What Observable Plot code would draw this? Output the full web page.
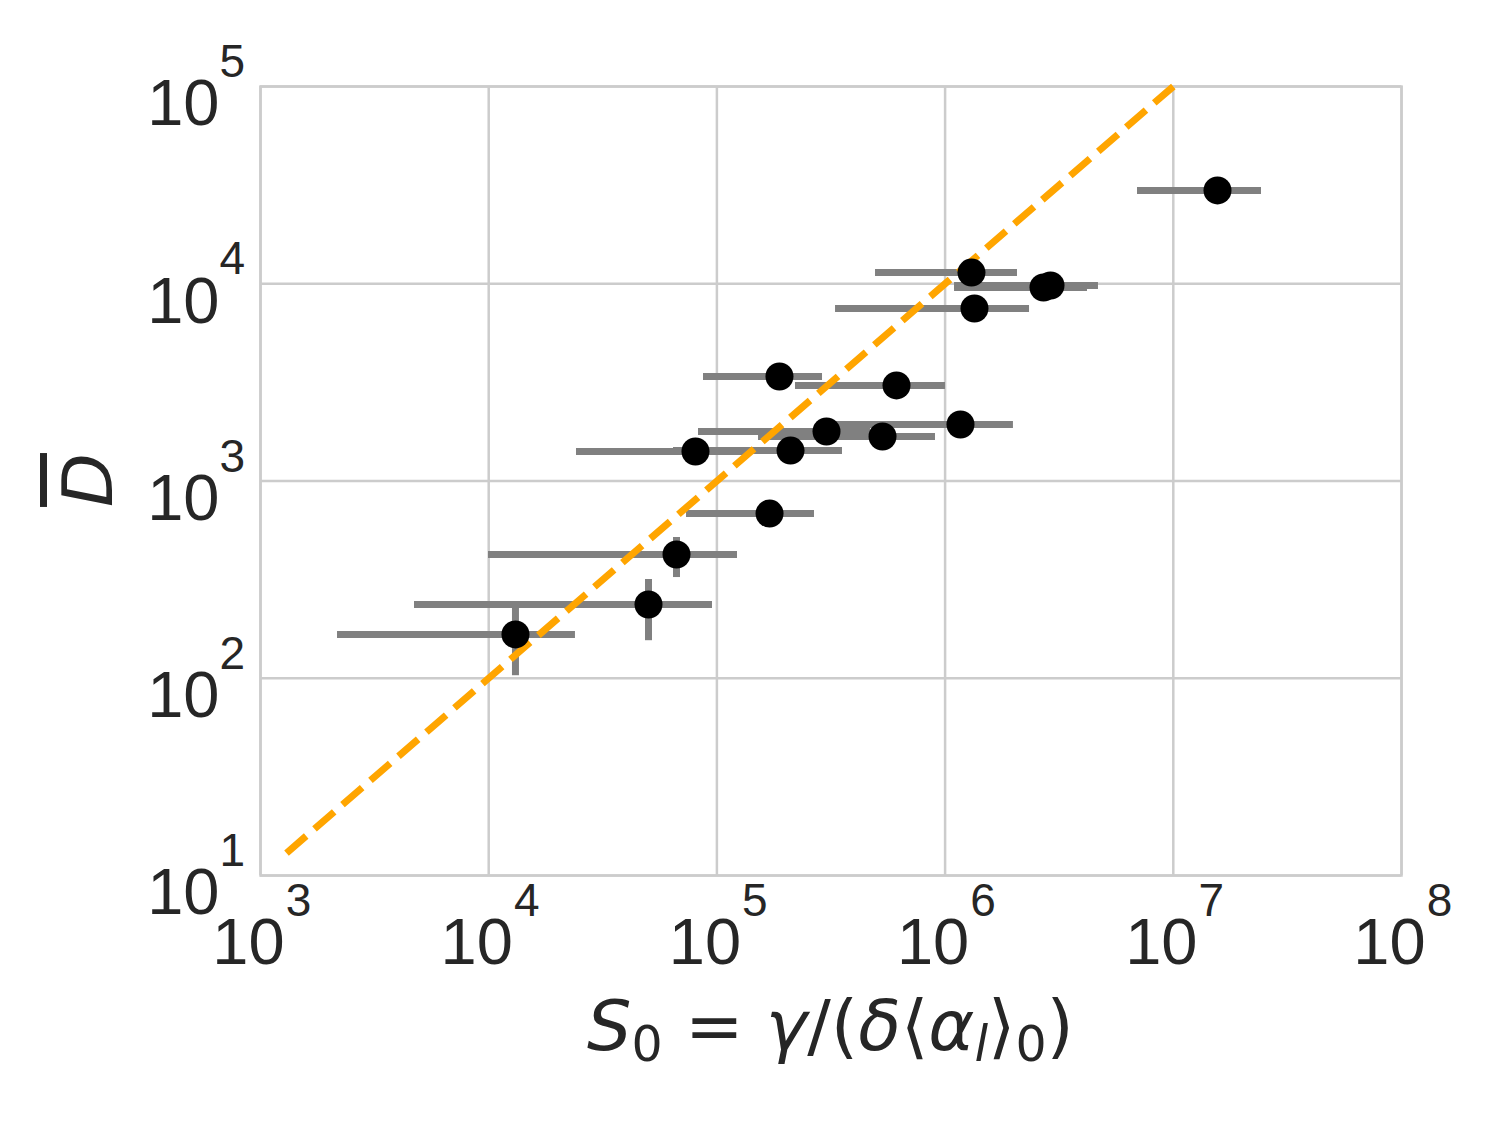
<!DOCTYPE html>
<html><head><meta charset="utf-8">
<script src="https://cdn.jsdelivr.net/npm/d3@7"></script>
<script src="https://cdn.jsdelivr.net/npm/@observablehq/plot@0.6"></script>
<style>html,body{margin:0;padding:0;background:#fff;overflow:hidden}svg{display:block}</style>
</head><body><div id="chart"></div>
<script>
// Point estimates (x = S0, y = mean D)
const S    = [13100, 50150, 66530, 170100, 188000, 612400, 302200, 531800, 1168000, 80560, 210200, 15620000, 1305000, 2699000, 2897000, 1345000];
const D    = [166.7, 236.5, 424, 684, 3386, 3050, 1782, 1681, 1934, 1411, 1427, 29710, 11400, 9572, 9797, 7490];
// Horizontal error bar ends
const S_lo = [2175, 4730, 9980, 73600, 87350, 221000, 83060, 152200, 314700, 24250, 64540, 6968000, 495500, 1100000, 1100000, 331000];
const S_hi = [24000, 95650, 123100, 267700, 290300, 1004000, 471000, 907600, 1993000, 137500, 355100, 24350000, 2076000, 4207000, 4700000, 2344000];
// Vertical error bar ends (hidden under marker when equal to D)
const D_lo = [103, 155, 324, 684, 3386, 3050, 1782, 1681, 1934, 1411, 1427, 29710, 11400, 9572, 9797, 7490];
const D_hi = [228, 316.7, 517, 684, 3386, 3050, 1782, 1681, 1934, 1411, 1427, 29710, 11400, 9572, 9797, 7490];
// Reference line D = S/100
const lineS = [1300, 1e7];
const lineD = [13, 1e5];
// Ticks
const xTicks = [1e3, 1e4, 1e5, 1e6, 1e7, 1e8];
const xExponents = ["3", "4", "5", "6", "7", "8"];
const yTicks = [1e1, 1e2, 1e3, 1e4, 1e5];
const yExponents = ["1", "2", "3", "4", "5"];

const rows = S.map((s, i) => ({S: s, D: D[i], sLo: S_lo[i], sHi: S_hi[i], dLo: D_lo[i], dHi: D_hi[i]}));
const lineRows = lineS.map((s, i) => ({S: s, D: lineD[i]}));
const xExp = new Map(xTicks.map((t, i) => [t, xExponents[i]]));
const yExp = new Map(yTicks.map((t, i) => [t, yExponents[i]]));

const ML = 260, MR = 99, MT = 86, MB = 250, W = 1500, H = 1125;
const chart = Plot.plot({
  width: W, height: H,
  marginLeft: ML, marginRight: MR, marginTop: MT, marginBottom: MB,
  style: {background: "#fff", fontFamily: "'Liberation Sans', Arial, sans-serif", color: "#262626"},
  x: {type: "log", domain: [1e3, 1e8]},
  y: {type: "log", domain: [10, 1e5]},
  marks: [
    Plot.gridX(xTicks, {stroke: "#cccccc", strokeOpacity: 1, strokeWidth: 2.5}),
    Plot.gridY(yTicks, {stroke: "#cccccc", strokeOpacity: 1, strokeWidth: 2.5}),
    Plot.frame({stroke: "#cccccc", strokeWidth: 2.5}),
    Plot.ruleY(rows, {y: "D", x1: "sLo", x2: "sHi", stroke: "#808080", strokeWidth: 7}),
    Plot.ruleX(rows, {x: "S", y1: "dLo", y2: "dHi", stroke: "#808080", strokeWidth: 7}),
    Plot.line(lineRows, {x: "S", y: "D", stroke: "#FFA500", strokeWidth: 7, strokeDasharray: "26,11", strokeLinecap: "butt"}),
    Plot.dot(rows, {x: "S", y: "D", r: 14, fill: "black"}),
    Plot.axisX(xTicks, {tickSize: 0, tickPadding: 42, tickFormat: () => "10", fontSize: 65, dx: -12, label: null}),
    Plot.axisX(xTicks, {tickSize: 0, tickPadding: 8, tickFormat: d => xExp.get(d), fontSize: 46, dx: 38, label: null}),
    Plot.axisY(yTicks, {tickSize: 0, tickPadding: 41, tickFormat: () => "10", fontSize: 65, dy: 18, label: null}),
    Plot.axisY(yTicks, {tickSize: 0, tickPadding: 41, textAnchor: "start", tickFormat: d => yExp.get(d), fontSize: 46, dy: -24, label: null})
  ]
});
document.getElementById("chart").appendChild(chart);

const svg = d3.select(chart);
const fs = 70;
const xt = svg.append("text")
  .attr("x", ML + (W - ML - MR) / 2)
  .attr("y", 1050)
  .attr("text-anchor", "middle")
  .attr("font-family", "'DejaVu Sans', sans-serif")
  .attr("font-size", fs)
  .attr("fill", "#262626");
function tspan(t, opts = {}) {
  const s = xt.append("tspan").text(t);
  if (opts.it) s.attr("font-style", "italic");
  if (opts.size) s.attr("font-size", opts.size);
  if (opts.dy) s.attr("dy", opts.dy);
  return s;
}
tspan("S", {it: true});
tspan("0", {size: fs * 0.7, dy: 11});
tspan(" = ", {dy: -11});
tspan("γ", {it: true});
tspan("/(");
tspan("δ", {it: true});
tspan("⟨");
tspan("α", {it: true});
tspan("l", {it: true, size: fs * 0.7, dy: 11});
tspan("⟩", {dy: -11});
tspan("0", {size: fs * 0.7, dy: 11});
tspan(")", {dy: -11});

svg.append("text")
  .attr("transform", "translate(112,480) rotate(-90)")
  .attr("text-anchor", "middle")
  .attr("font-family", "'DejaVu Sans', sans-serif")
  .attr("font-size", fs)
  .attr("font-style", "italic")
  .attr("fill", "#262626")
  .style("text-decoration", "overline")
  .text("D");
</script>
</body></html>
